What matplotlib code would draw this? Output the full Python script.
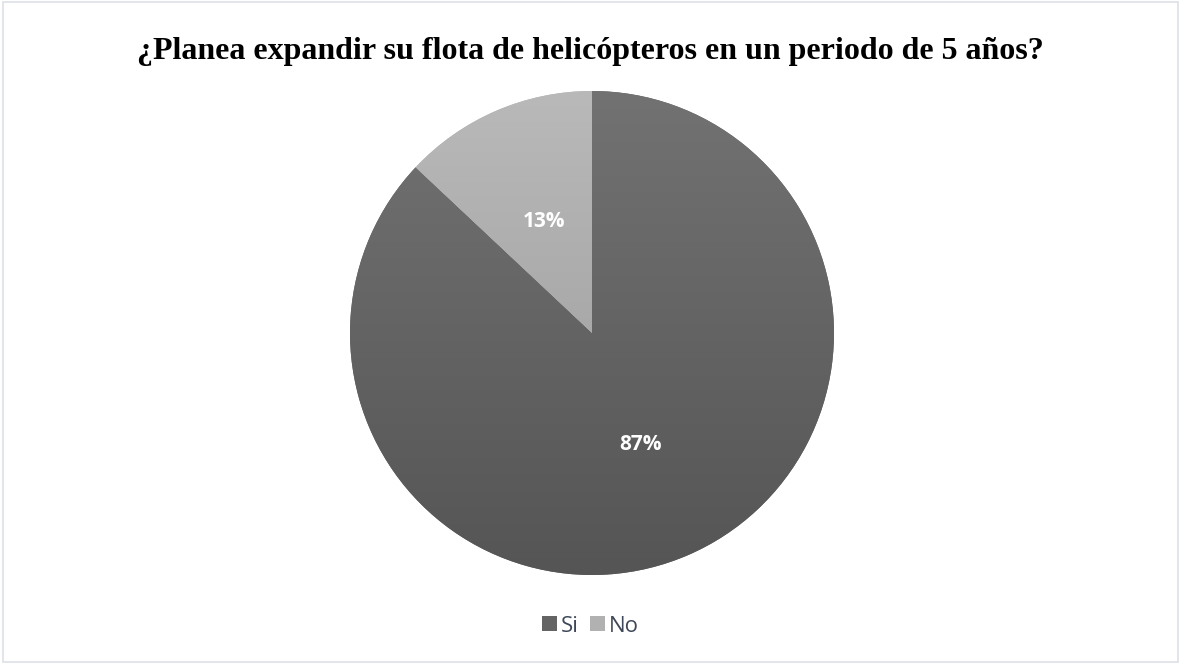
import numpy as np
import matplotlib.pyplot as plt
from matplotlib.colors import LinearSegmentedColormap, to_rgb
from matplotlib.patches import Rectangle

# Survey answers
labels = ["Si", "No"]
shares = [87, 13]
top_colors = ["#727272", "#b9b9b9"]
bottom_colors = ["#555555", "#a9a9a9"]

fig = plt.figure(figsize=(11.81, 6.64), dpi=100)

# thin frame around the whole chart area
fig.patches.append(Rectangle((3 / 1181, 2 / 664), 1175 / 1181, 660 / 664,
                             transform=fig.transFigure, fill=False,
                             edgecolor="#dde1e6", linewidth=1.2))

ax = fig.add_axes([350 / 1181, 89 / 664, 484 / 1181, 484 / 664])

mid_colors = [tuple((np.array(to_rgb(t)) + np.array(to_rgb(b))) / 2)
              for t, b in zip(top_colors, bottom_colors)]

wedges, texts, autotexts = ax.pie(
    shares,
    colors=mid_colors,
    startangle=90,
    counterclock=False,
    autopct="%1.0f%%",
    pctdistance=0.5,
    wedgeprops=dict(linewidth=0),
    textprops=dict(color="white", fontsize=15, fontweight="bold", family="Open Sans"),
)

# vertical gradient inside each slice
for w, t, b in zip(wedges, top_colors, bottom_colors):
    ext = w.get_path().get_extents()
    cmap = LinearSegmentedColormap.from_list("g", [b, t])
    grad = np.linspace(0, 1, 256).reshape(-1, 1)
    im = ax.imshow(grad, cmap=cmap, origin="lower", aspect="auto",
                   extent=[ext.x0, ext.x1, ext.y0, ext.y1], zorder=1.5)
    im.set_clip_path(w)

for txt in autotexts:
    txt.set_zorder(3)

ax.set_xlim(-1, 1)
ax.set_ylim(-1, 1)
ax.set_aspect("equal")
ax.axis("off")

fig.text(0.5, 1 - 51 / 664, "¿Planea expandir su flota de helicópteros en un periodo de 5 años?",
         ha="center", va="center", fontsize=23, fontweight="bold",
         family="Liberation Serif", color="black")

fig.legend(wedges, labels, loc="center", bbox_to_anchor=(0.5, 1 - 626 / 664),
           ncol=2, frameon=False, handlelength=0.66, handleheight=0.66,
           handletextpad=0.2, columnspacing=0.5,
           prop=dict(family="Open Sans", size=16), labelcolor="#3e4858")

plt.savefig("out.png", dpi=100)
